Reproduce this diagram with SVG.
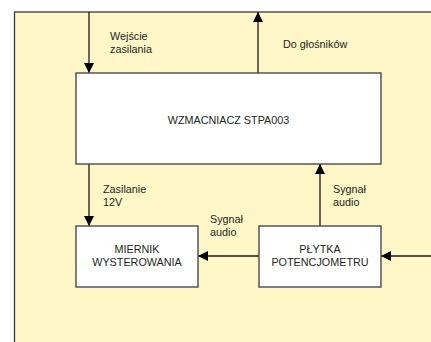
<svg xmlns="http://www.w3.org/2000/svg" width="431" height="342" viewBox="0 0 431 342">
  <style>
    .box { fill: #ffffff; stroke: #4a4a4a; stroke-width: 1.4; }
    .lbl { font-family: "Liberation Sans", Arial, sans-serif; font-size: 10.8px; fill: #231f20; }
    .ctr { text-anchor: middle; }
    .line { stroke: #1a1a1a; stroke-width: 1.3; fill: none; marker-end: url(#ah); }
  </style>
  <defs>
    <marker id="ah" markerWidth="10" markerHeight="10" refX="10" refY="5" orient="auto" markerUnits="userSpaceOnUse">
      <path d="M0,0 L10,5 L0,10 Z" fill="#000"/>
    </marker>
  </defs>
  <rect x="0" y="0" width="431" height="342" fill="#ffffff"/>
  <rect id="panel" x="14.5" y="12" width="420" height="340" fill="#fff7c8" stroke="#3a3a3a" stroke-width="1.3"/>

  <g id="connectors">
    <line class="line" x1="89" y1="12" x2="89" y2="73"/>
    <line class="line" x1="258" y1="73" x2="258" y2="12"/>
    <line class="line" x1="89" y1="164" x2="89" y2="226"/>
    <line class="line" x1="320" y1="226" x2="320" y2="164"/>
    <line class="line" x1="259" y1="256" x2="198" y2="256"/>
    <line class="line" x1="431" y1="256" x2="381" y2="256"/>
    <text class="lbl" x="110" y="39.5">Wejście</text>
    <text class="lbl" x="110" y="52.5">zasilania</text>
    <text class="lbl" x="283" y="48">Do głośników</text>
    <text class="lbl" x="103" y="193">Zasilanie</text>
    <text class="lbl" x="103" y="206">12V</text>
    <text class="lbl" x="333" y="193">Sygnał</text>
    <text class="lbl" x="333" y="206">audio</text>
    <text class="lbl" x="210" y="223">Sygnał</text>
    <text class="lbl" x="210" y="236">audio</text>
  </g>

  <g id="wzmacniacz">
    <rect class="box" x="76" y="73" width="305" height="91"/>
    <text class="lbl ctr" x="228.5" y="124">WZMACNIACZ STPA003</text>
  </g>
  <g id="miernik">
    <rect class="box" x="76" y="226" width="122" height="61"/>
    <text class="lbl ctr" x="137" y="253">MIERNIK</text>
    <text class="lbl ctr" x="137" y="266">WYSTEROWANIA</text>
  </g>
  <g id="plytka">
    <rect class="box" x="259" y="226" width="122" height="61"/>
    <text class="lbl ctr" x="320" y="253">PŁYTKA</text>
    <text class="lbl ctr" x="320" y="266">POTENCJOMETRU</text>
  </g>
</svg>
